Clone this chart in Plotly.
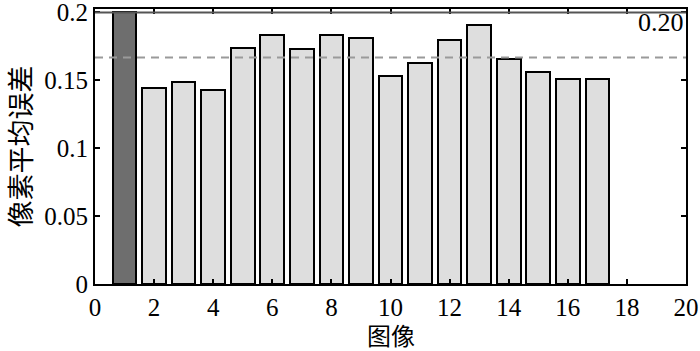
import plotly.graph_objects as go

images = list(range(1, 18))
errors = [0.200, 0.144, 0.149, 0.143, 0.174, 0.183, 0.173, 0.183, 0.181,
          0.153, 0.163, 0.180, 0.191, 0.166, 0.156, 0.151, 0.151]
bar_colors = ["#6e6e6e"] + ["#dedede"] * 16
mean_line = 0.1667
top_line = 0.20
top_label = "0.20"
x_ticks = list(range(0, 21, 2))
y_ticks = [0, 0.05, 0.1, 0.15, 0.2]
x_title = "图像"
y_title = "像素平均误差"

serif = "Liberation Serif, Times New Roman, serif"
cjk = "Noto Sans CJK SC"

fig = go.Figure()
fig.add_trace(go.Bar(
    x=images, y=errors, width=0.8,
    marker=dict(color=bar_colors, line=dict(color="black", width=2)),
    showlegend=False,
))

fig.add_shape(type="line", xref="paper", x0=0, x1=1, yref="y", y0=mean_line, y1=mean_line,
              line=dict(color="#9a9a9a", width=2, dash="8px,6px"), layer="above")
fig.add_shape(type="line", xref="paper", x0=0, x1=1, yref="y", y0=top_line, y1=top_line,
              line=dict(color="#555555", width=2), layer="above")

fig.add_annotation(text=top_label, xref="paper", x=1, xanchor="right", yref="y", y=top_line,
                   yanchor="middle", yshift=-10, xshift=0, showarrow=False,
                   font=dict(family=serif, size=26, color="black"))

# axis titles
fig.add_annotation(text=x_title, xref="paper", x=0.5, xanchor="center",
                   yref="paper", y=-0.182, yanchor="middle", showarrow=False,
                   font=dict(family=cjk, size=24, color="black"))
fig.add_annotation(text=y_title, xref="paper", x=-0.127, xanchor="center",
                   yref="paper", y=0.5, yanchor="middle", textangle=-90, showarrow=False,
                   font=dict(family=cjk, size=27, color="black"))

fig.update_layout(
    width=700, height=351,
    margin=dict(l=95, r=14, t=9, b=67),
    plot_bgcolor="white", paper_bgcolor="white",
    bargap=0,
)
fig.update_xaxes(
    range=[0, 20], tickvals=x_ticks, ticks="inside", ticklen=5, tickwidth=1.5,
    tickcolor="black", showline=True, linecolor="black", linewidth=2, mirror="ticks",
    showgrid=False, zeroline=False, automargin=False, ticklabeloverflow="allow",
    tickfont=dict(family=serif, size=25, color="black"),
)
fig.update_yaxes(
    range=[0, 0.2025], tickvals=y_ticks, ticks="inside", ticklen=5, tickwidth=1.5,
    tickcolor="black", showline=True, linecolor="black", linewidth=2, mirror="ticks",
    showgrid=False, zeroline=False, automargin=False, ticklabeloverflow="allow",
    tickfont=dict(family=serif, size=25, color="black"),
)

fig.write_html("out.html", config={"displayModeBar": False},
               post_script="document.body.style.margin='0';")
